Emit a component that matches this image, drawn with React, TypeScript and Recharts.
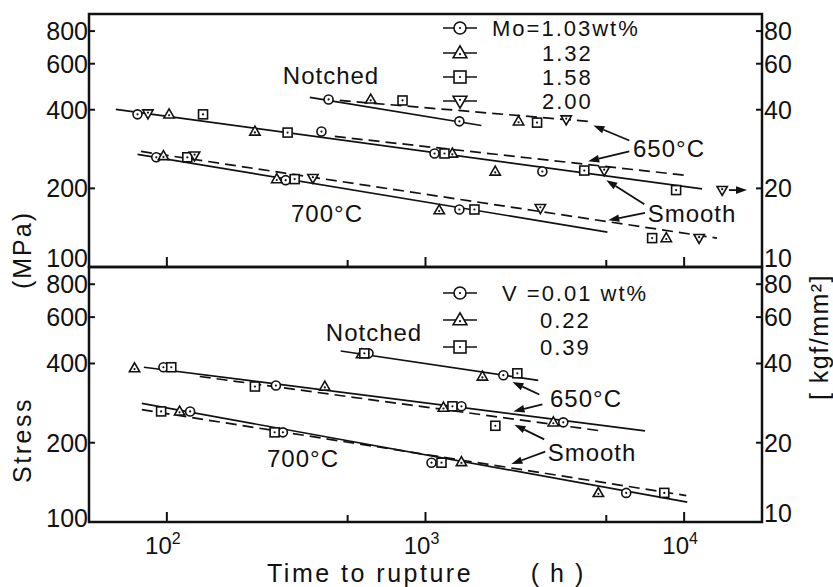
import {
  ComposedChart,
  Line,
  Scatter,
  XAxis,
  YAxis,
  ReferenceArea,
  ReferenceLine,
} from 'recharts'

const FONT = '"Liberation Sans", Arial, sans-serif'
const INK = '#111'

type Pt = { t: number; s: number }

const X_DOMAIN = [50, 20000]
const MPA_DOMAIN = [100, 930]
const KGF_DOMAIN = [10, 93]
const X_TICKS = [100, 500, 1000, 5000, 10000]
const MPA_TICKS = [100, 200, 400, 600, 800]
const KGF_TICKS = [10, 20, 40, 60, 80]

// top panel, Mo series: time to rupture (h) / stress (MPa)
const moCircle: Pt[] = [
  { t: 422, s: 438 }, { t: 1352, s: 361 },
  { t: 77, s: 384 }, { t: 396, s: 330 }, { t: 1084, s: 272 }, { t: 2830, s: 232 },
  { t: 91, s: 263 }, { t: 288, s: 215 }, { t: 1352, s: 166 },
]
const moTriangle: Pt[] = [
  { t: 614, s: 438 }, { t: 2290, s: 361 },
  { t: 102, s: 384 }, { t: 219, s: 330 }, { t: 1270, s: 272 }, { t: 1860, s: 232 },
  { t: 97, s: 266 }, { t: 266, s: 217 }, { t: 1130, s: 165 }, { t: 8530, s: 129 },
]
const moSquare: Pt[] = [
  { t: 815, s: 434 }, { t: 2700, s: 357 },
  { t: 138, s: 384 }, { t: 293, s: 327 }, { t: 1184, s: 272 }, { t: 4110, s: 234 }, { t: 9310, s: 197 },
  { t: 120, s: 263 }, { t: 312, s: 217 }, { t: 1546, s: 166 }, { t: 7520, s: 129 },
]
const moInvTri: Pt[] = [
  { t: 3500, s: 367 },
  { t: 84.5, s: 387 }, { t: 4910, s: 234 }, { t: 14030, s: 197 },
  { t: 128, s: 267 }, { t: 367, s: 219 }, { t: 2780, s: 168 }, { t: 11430, s: 129 },
]

// fitted lines, top panel
const moLinesSolid: Pt[][] = [
  [{ t: 357, s: 446 }, { t: 1644, s: 348 }],
  [{ t: 63.5, s: 401 }, { t: 11730, s: 199 }],
  [{ t: 77, s: 270 }, { t: 5050, s: 136 }],
]
const moLinesDashed: Pt[][] = [
  [{ t: 466, s: 434 }, { t: 4375, s: 360 }],
  [{ t: 446, s: 316 }, { t: 10280, s: 224 }],
  [{ t: 79.4, s: 277 }, { t: 13400, s: 129 }],
]

// bottom panel, V series
const vCircle: Pt[] = [
  { t: 602, s: 437 }, { t: 2000, s: 361 },
  { t: 97, s: 387 }, { t: 264, s: 330 }, { t: 1377, s: 275 }, { t: 3410, s: 239 },
  { t: 123, s: 263 }, { t: 281, s: 219 }, { t: 1055, s: 168 }, { t: 5970, s: 129 },
]
const vTriangle: Pt[] = [
  { t: 566, s: 434 }, { t: 1660, s: 357 },
  { t: 75, s: 384 }, { t: 408, s: 327 }, { t: 1173, s: 272 }, { t: 3120, s: 239 },
  { t: 112, s: 263 }, { t: 1377, s: 169 }, { t: 4660, s: 129 },
]
const vSquare: Pt[] = [
  { t: 580, s: 437 }, { t: 2265, s: 367 },
  { t: 104, s: 387 }, { t: 219, s: 327 }, { t: 1271, s: 275 }, { t: 1862, s: 232 },
  { t: 95, s: 263 }, { t: 261, s: 219 }, { t: 1153, s: 168 }, { t: 8380, s: 129 },
]

const vLinesSolid: Pt[][] = [
  [{ t: 470, s: 446 }, { t: 2729, s: 345 }],
  [{ t: 81.5, s: 387 }, { t: 7060, s: 222 }],
  [{ t: 80, s: 282 }, { t: 10280, s: 119 }],
]
const vLinesDashed: Pt[][] = [
  [{ t: 134, s: 357 }, { t: 4745, s: 222 }],
  [{ t: 80, s: 267 }, { t: 10190, s: 126 }],
]

// annotation arrows [tail, tip]
const moArrows: Pt[][] = [
  [{ t: 6138, s: 305 }, { t: 4457, s: 348 }],
  [{ t: 6138, s: 277 }, { t: 4256, s: 254 }],
  [{ t: 7016, s: 174 }, { t: 5000, s: 215 }],
  [{ t: 7060, s: 161 }, { t: 5090, s: 151 }],
  [{ t: 14900, s: 197 }, { t: 17500, s: 197 }],
]
const vArrows: Pt[][] = [
  [{ t: 2754, s: 305 }, { t: 2168, s: 340 }],
  [{ t: 2831, s: 280 }, { t: 2188, s: 263 }],
  [{ t: 2878, s: 206 }, { t: 2208, s: 234 }],
  [{ t: 2904, s: 185 }, { t: 2148, s: 166 }],
]

function Mark({ cx, cy, kind, r = 4.5 }: { cx: number; cy: number; kind: string; r?: number }) {
  const st = { fill: '#fff', stroke: INK, strokeWidth: 1.6 }
  let body
  if (kind === 'circle') body = <circle cx={cx} cy={cy} r={r} {...st} />
  else if (kind === 'square') body = <rect x={cx - r} y={cy - r} width={2 * r} height={2 * r} {...st} />
  else if (kind === 'tri')
    body = <polygon points={`${cx},${cy - r * 1.2} ${cx - r * 1.15},${cy + r * 0.8} ${cx + r * 1.15},${cy + r * 0.8}`} {...st} />
  else body = <polygon points={`${cx},${cy + r * 1.2} ${cx - r * 1.15},${cy - r * 0.8} ${cx + r * 1.15},${cy - r * 0.8}`} {...st} />
  const dy = kind === 'tri' ? r * 0.2 : kind === 'itri' ? -r * 0.2 : 0
  return (
    <g>
      {body}
      <circle cx={cx} cy={cy + dy} r={1.1} fill={INK} />
    </g>
  )
}

function ArrowShape(p: any) {
  const { x1, y1, x2, y2 } = p
  const a = Math.atan2(y2 - y1, x2 - x1)
  const L = 11
  const H = 3.8
  const bx = x2 - L * Math.cos(a)
  const by = y2 - L * Math.sin(a)
  const pts = `${x2},${y2} ${bx - H * Math.sin(a)},${by + H * Math.cos(a)} ${bx + H * Math.sin(a)},${by - H * Math.cos(a)}`
  return (
    <g>
      <line x1={x1} y1={y1} x2={bx} y2={by} stroke={INK} strokeWidth={1.8} />
      <polygon points={pts} fill={INK} />
    </g>
  )
}

function XTick({ x, y, payload, labels }: any) {
  const v = payload.value
  const major = v === 100 || v === 1000 || v === 10000
  return (
    <g>
      <line x1={x} x2={x} y1={y} y2={y - (major ? 10 : 7)} stroke={INK} strokeWidth={2} />
      {labels && major && (
        <text x={x - 4} y={y + 32} textAnchor="middle" fontFamily={FONT} fontSize={24} fill={INK}>
          10
          <tspan dy={-10} fontSize={16}>
            {Math.round(Math.log10(v))}
          </tspan>
        </text>
      )}
    </g>
  )
}

function LeftTick({ x, y, payload, lowShift }: any) {
  const v = payload.value
  const dy = v === 100 ? -lowShift : 0
  return (
    <g>
      <line x1={x} x2={x + 6} y1={y} y2={y} stroke={INK} strokeWidth={2} />
      <text x={x - 1} y={y + dy} dy="0.36em" textAnchor="end" fontFamily={FONT} fontSize={25} fill={INK}>
        {v}
      </text>
    </g>
  )
}

function RightTick({ x, y, payload }: any) {
  const v = payload.value
  const dy = v === 10 ? -9 : 0
  return (
    <g>
      <line x1={x} x2={x - 6} y1={y} y2={y} stroke={INK} strokeWidth={2} />
      <text x={x + 2} y={y + dy} dy="0.36em" textAnchor="start" fontFamily={FONT} fontSize={25} fill={INK}>
        {v}
      </text>
    </g>
  )
}

type Series = { data: Pt[]; kind: string }

function Panel({
  height,
  margin,
  series,
  solid,
  dashed,
  arrows,
  labels,
  lowShift,
}: {
  height: number
  margin: { top: number; right: number; bottom: number; left: number }
  series: Series[]
  solid: Pt[][]
  dashed: Pt[][]
  arrows: Pt[][]
  labels: boolean
  lowShift: number
}) {
  return (
    <ComposedChart width={833} height={height} margin={margin}>
      <XAxis
        dataKey="t"
        type="number"
        scale="log"
        domain={X_DOMAIN}
        allowDataOverflow
        ticks={X_TICKS}
        interval={0}
        height={1}
        tickSize={0}
        tickMargin={0}
        axisLine={false}
        tick={<XTick labels={labels} />}
      />
      <YAxis
        dataKey="s"
        type="number"
        scale="log"
        domain={MPA_DOMAIN}
        allowDataOverflow
        ticks={MPA_TICKS}
        interval={0}
        width={1}
        tickSize={0}
        tickMargin={0}
        axisLine={false}
        tick={<LeftTick lowShift={lowShift} />}
      />
      <YAxis
        yAxisId="r"
        orientation="right"
        type="number"
        scale="log"
        domain={KGF_DOMAIN}
        allowDataOverflow
        ticks={KGF_TICKS}
        interval={0}
        width={1}
        tickSize={0}
        tickMargin={0}
        axisLine={false}
        tick={<RightTick />}
      />
      <ReferenceArea
        x1={X_DOMAIN[0]}
        x2={X_DOMAIN[1]}
        y1={MPA_DOMAIN[0]}
        y2={MPA_DOMAIN[1]}
        fill="none"
        stroke={INK}
        strokeWidth={2.5}
        ifOverflow="visible"
      />
      {solid.map((d, i) => (
        <Line
          key={'s' + i}
          data={d}
          dataKey="s"
          type="linear"
          stroke={INK}
          strokeWidth={1.7}
          dot={false}
          activeDot={false}
          isAnimationActive={false}
        />
      ))}
      {dashed.map((d, i) => (
        <Line
          key={'d' + i}
          data={d}
          dataKey="s"
          type="linear"
          stroke={INK}
          strokeWidth={1.7}
          strokeDasharray="11 6"
          dot={false}
          activeDot={false}
          isAnimationActive={false}
        />
      ))}
      {arrows.map((a, i) => (
        <ReferenceLine
          key={'a' + i}
          segment={[
            { x: a[0].t, y: a[0].s },
            { x: a[1].t, y: a[1].s },
          ]}
          ifOverflow="visible"
          shape={(p: any) => <ArrowShape {...p} />}
        />
      ))}
      {series.map((sr, i) => (
        <Scatter
          key={'p' + i}
          data={sr.data}
          dataKey="s"
          isAnimationActive={false}
          shape={(p: any) => <Mark cx={p.cx} cy={p.cy} kind={sr.kind} />}
        />
      ))}
    </ComposedChart>
  )
}

function LegendRow({ y, kind, text, x }: { y: number; kind: string; text: string; x: number }) {
  return (
    <g>
      <line x1={443} x2={477} y1={y} y2={y} stroke={INK} strokeWidth={1.6} />
      <Mark cx={460} cy={y} kind={kind} r={6} />
      <text x={x} y={y} dy="0.36em" fontFamily={FONT} fontSize={22} letterSpacing={2} fill={INK}>
        {text}
      </text>
    </g>
  )
}

function Label({ x, y, text }: { x: number; y: number; text: string }) {
  return (
    <text x={x} y={y} dy="0.36em" textAnchor="middle" fontFamily={FONT} fontSize={24} letterSpacing={1} fill={INK}>
      {text}
    </text>
  )
}

export default function App() {
  return (
    <div style={{ position: 'absolute', left: 0, top: 0, width: 833, height: 587, background: '#fff' }}>
      <div style={{ position: 'absolute', left: 0, top: 0 }}>
        <Panel
          height={290}
          margin={{ top: 14, right: 70, bottom: 22, left: 88 }}
          series={[
            { data: moCircle, kind: 'circle' },
            { data: moTriangle, kind: 'tri' },
            { data: moSquare, kind: 'square' },
            { data: moInvTri, kind: 'itri' },
          ]}
          solid={moLinesSolid}
          dashed={moLinesDashed}
          arrows={moArrows}
          labels={false}
          lowShift={9}
        />
      </div>
      <div style={{ position: 'absolute', left: 0, top: 240 }}>
        <Panel
          height={347}
          margin={{ top: 27, right: 70, bottom: 64, left: 88 }}
          series={[
            { data: vCircle, kind: 'circle' },
            { data: vTriangle, kind: 'tri' },
            { data: vSquare, kind: 'square' },
          ]}
          solid={vLinesSolid}
          dashed={vLinesDashed}
          arrows={vArrows}
          labels={true}
          lowShift={4}
        />
      </div>
      <svg width={833} height={587} style={{ position: 'absolute', left: 0, top: 0, pointerEvents: 'none' }}>
        <LegendRow y={28} kind="circle" text="Mo=1.03wt%" x={492} />
        <LegendRow y={53} kind="tri" text="1.32" x={542} />
        <LegendRow y={77} kind="square" text="1.58" x={542} />
        <LegendRow y={101} kind="itri" text="2.00" x={542} />
        <LegendRow y={293} kind="circle" text="V =0.01 wt%" x={502} />
        <LegendRow y={320} kind="tri" text="0.22" x={540} />
        <LegendRow y={347} kind="square" text="0.39" x={540} />

        <Label x={331} y={75} text="Notched" />
        <Label x={327} y={213} text="700°C" />
        <Label x={669} y={148} text="650°C" />
        <Label x={692} y={213} text="Smooth" />
        <Label x={374} y={332} text="Notched" />
        <Label x={303} y={458} text="700°C" />
        <Label x={586} y={398} text="650°C" />
        <Label x={592} y={452} text="Smooth" />

        <text transform="translate(22,250) rotate(-90)" dy="0.36em" textAnchor="middle" fontFamily={FONT} fontSize={25} letterSpacing={2} fill={INK}>
          (MPa)
        </text>
        <text transform="translate(22,440) rotate(-90)" dy="0.36em" textAnchor="middle" fontFamily={FONT} fontSize={25} letterSpacing={2.5} fill={INK}>
          Stress
        </text>
        <text transform="translate(819,337) rotate(-90)" dy="0.36em" textAnchor="middle" fontFamily={FONT} fontSize={25} letterSpacing={1.5} fill={INK}>
          [ kgf/mm²]
        </text>
        <text x={267} y={573} dy="0.36em" fontFamily={FONT} fontSize={25} letterSpacing={2.5} fill={INK}>
          Time to rupture
        </text>
        <text x={558} y={573} dy="0.36em" textAnchor="middle" fontFamily={FONT} fontSize={25} letterSpacing={2} fill={INK}>
          ( h )
        </text>
      </svg>
    </div>
  )
}
